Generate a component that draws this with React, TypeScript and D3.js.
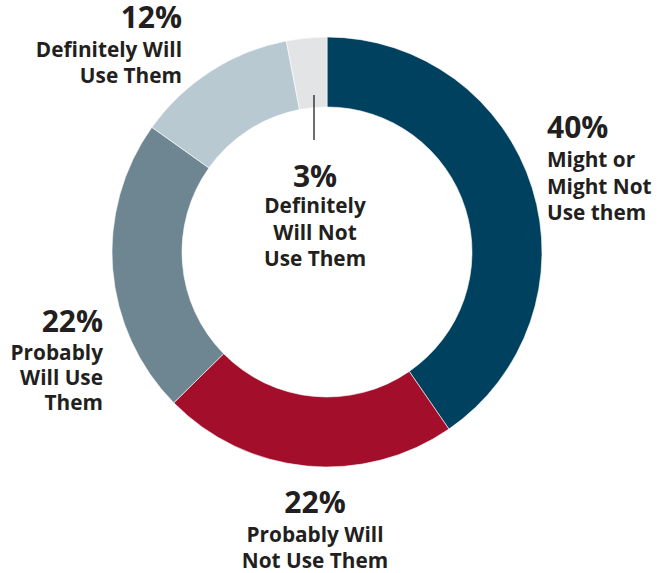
import React from "react";
import * as d3 from "d3";

const categories = [
  "Might or Might Not Use them",
  "Probably Will Not Use Them",
  "Probably Will Use Them",
  "Definitely Will Use Them",
  "Definitely Will Not Use Them",
];
const values = [40, 22, 22, 12, 3];
const colors = ["#00415f", "#a30e2b", "#6e8691", "#b8c9d2", "#e2e4e6"];

type Label = { pct: string; lines: string[]; x: number; y: number; anchor: string; off: number; gap: number };

const labels: Label[] = [
  { pct: "40%", lines: ["Might or", "Might Not", "Use them"], x: 547, y: 138, anchor: "start", off: 29, gap: 26.5 },
  { pct: "22%", lines: ["Probably Will", "Not Use Them"], x: 315, y: 513, anchor: "middle", off: 29, gap: 25.5 },
  { pct: "22%", lines: ["Probably", "Will Use", "Them"], x: 103, y: 332, anchor: "end", off: 28, gap: 25 },
  { pct: "12%", lines: ["Definitely Will", "Use Them"], x: 182, y: 28, anchor: "end", off: 29, gap: 25.5 },
  { pct: "3%", lines: ["Definitely", "Will Not", "Use Them"], x: 315, y: 187, anchor: "middle", off: 26, gap: 26.5 },
];

export default function App() {
  const W = 667, H = 573;
  const cx = 327, cy = 252, outerR = 215, innerR = 145;
  const pie = d3.pie<number>().sort(null).value((d) => d);
  const arcs = pie(values);
  const arcGen = d3.arc<d3.PieArcDatum<number>>().innerRadius(innerR).outerRadius(outerR);
  const font = "'Open Sans', 'Noto Sans', sans-serif";
  return (
    <svg width={W} height={H} style={{ position: "absolute", left: 0, top: 0, background: "#fff" }}>
      <g transform={`translate(${cx},${cy})`}>
        {arcs.map((a, i) => (
          <path key={categories[i]} d={arcGen(a) || ""} fill={colors[i]} stroke="#fff" strokeWidth={0.6} />
        ))}
      </g>
      <line x1={314} y1={95} x2={314} y2={140} stroke="#231f20" strokeWidth={1.3} />
      {labels.map((l, i) => (
        <g key={i} fontFamily={font} fontWeight={700} fill="#231f20" textAnchor={l.anchor}>
          <text x={l.x} y={l.y} fontSize={30}>{l.pct}</text>
          {l.lines.map((t, j) => (
            <text key={j} x={l.x} y={l.y + l.off + j * l.gap} fontSize={20.8}>{t}</text>
          ))}
        </g>
      ))}
    </svg>
  );
}
